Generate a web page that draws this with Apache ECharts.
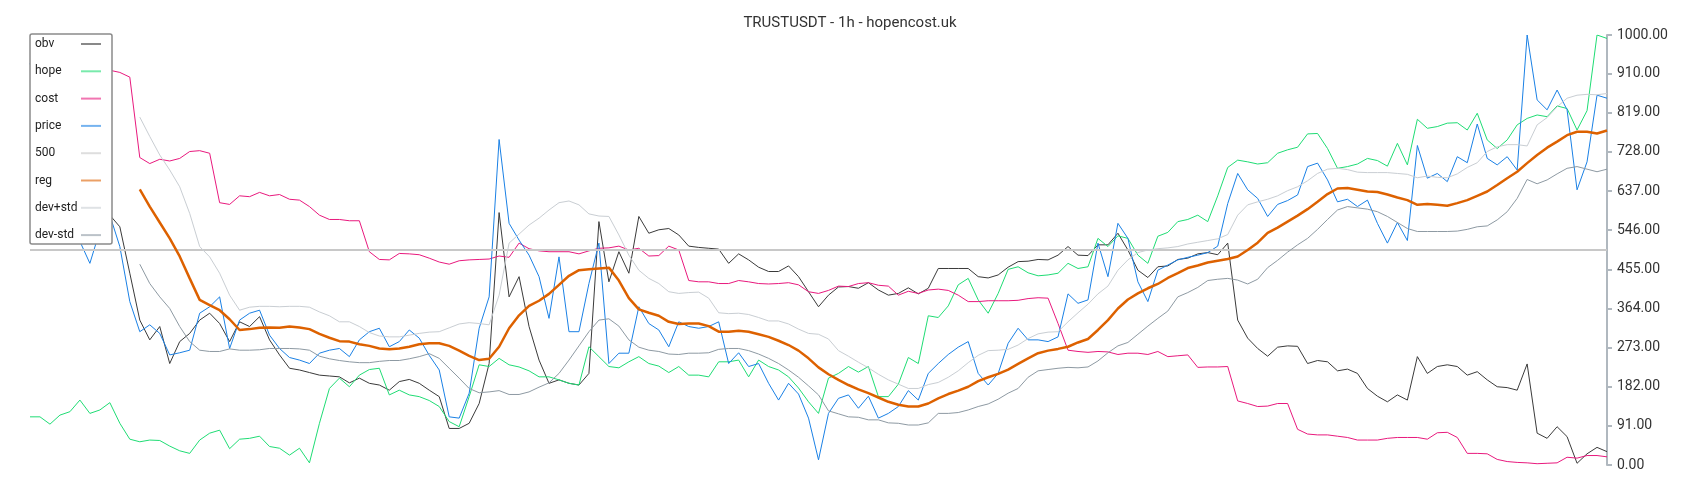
<!DOCTYPE html>
<html>
<head>
<meta charset="utf-8">
<script src="https://cdn.jsdelivr.net/npm/echarts/dist/echarts.min.js"></script>
<style>html,body{margin:0;padding:0;background:#fff}#chart{width:1700px;height:500px}</style>
</head>
<body>
<div id="chart"></div>
<script>
const title = 'TRUSTUSDT - 1h - hopencost.uk';
const seriesNames = ['obv', 'hope', 'cost', 'price', '500', 'reg', 'dev+std', 'dev-std'];
const yTicks = { min: 0, max: 1000, interval: 91 };

const price = [934,860,760,650,560,520,469,545,581,508,380,310,326,306,256,261,267,353,368,391,
271,337,353,360,302,271,250,244,236,260,267,271,252,291,310,318,275,287,314,295,
255,221,112,109,167,318,391,757,562,523,488,438,341,484,310,310,422,516,236,260,
260,368,329,314,275,333,322,318,322,333,236,261,229,236,190,151,190,165,109,12,
120,155,163,132,160,109,120,136,173,151,213,236,257,274,287,213,186,213,283,318,
291,291,287,298,398,376,384,516,438,562,527,426,380,453,465,477,483,488,494,509,
608,678,640,620,578,606,615,628,694,702,663,612,618,601,616,562,516,564,522,743,
667,678,659,717,703,793,713,698,717,686,1000,849,826,872,826,640,705,860,853];

const obv = [620,610,600,590,600,610,590,585,581,554,446,337,291,322,236,287,306,337,353,329,
287,333,322,345,291,256,225,221,215,209,207,205,191,202,190,186,174,194,199,190,
174,159,85,85,97,143,236,587,391,438,322,244,190,198,190,186,213,566,426,496,
446,578,539,547,550,535,509,506,504,502,469,491,477,460,450,450,463,438,403,368,
395,414,415,411,424,407,395,399,412,398,411,457,457,457,457,438,435,442,460,473,
474,478,477,488,508,488,487,512,512,539,500,453,436,461,463,478,481,491,494,489,
516,337,295,271,253,274,277,276,236,243,240,219,223,213,178,160,147,163,151,252,
213,229,233,229,209,217,198,182,180,174,235,74,62,89,66,4,26,41,31];

const hope = [112,112,95,116,124,151,120,128,145,97,60,54,58,57,44,33,27,58,74,81,
38,60,62,67,43,39,23,39,5,97,178,202,182,209,222,225,163,174,163,159,
150,136,101,89,159,233,229,248,233,228,219,205,205,198,190,186,275,252,229,226,
240,252,236,230,215,229,209,209,205,240,240,244,205,244,229,221,205,179,147,120,
202,213,229,216,229,159,159,188,250,236,347,343,370,419,434,384,353,399,455,461,
447,440,442,446,469,457,461,527,508,533,527,488,469,532,541,566,571,581,566,626,
692,709,705,700,703,725,733,739,770,771,736,690,694,700,713,708,695,748,698,804,
783,787,795,796,779,818,756,736,756,791,806,814,810,835,829,779,824,1000,992];

const cost = [985,990,995,1000,1000,960,935,925,918,913,902,715,701,711,707,713,729,731,725,610,
606,626,624,634,626,629,618,616,601,581,571,571,568,568,496,478,477,492,491,489,
481,472,467,475,477,478,479,486,483,516,503,498,496,496,496,491,498,504,505,509,
500,504,486,487,509,500,429,426,426,422,422,429,426,422,421,422,424,419,403,399,
406,416,415,422,424,418,416,395,404,399,407,409,406,395,380,380,382,382,382,383,
387,389,388,329,267,264,262,264,263,257,260,260,257,264,252,254,256,227,228,228,
229,149,143,136,137,143,143,83,72,70,70,67,64,58,58,58,62,64,64,64,
60,75,76,64,27,27,26,13,8,6,5,3,4,5,18,16,22,22,19];

const level500 = price.map(() => 500);

const reg = [null,null,null,null,null,null,null,null,null,null,null,641,601,564,527,485,434,384,372,360,
339,314,316,319,320,319,322,320,316,305,296,288,287,281,277,271,269,271,275,281,
283,283,277,266,254,244,247,275,318,348,370,382,398,419,440,453,455,457,459,429,
388,362,354,347,333,328,329,329,323,310,310,312,310,304,298,289,279,266,248,227,
211,198,186,176,167,157,147,140,136,136,143,155,165,173,182,195,204,212,222,235,
248,260,266,270,275,285,293,314,337,364,385,399,411,421,435,446,458,464,471,475,
479,485,500,517,540,552,566,580,595,612,630,643,644,640,636,635,629,622,616,605,
607,605,603,609,616,626,636,651,667,682,702,721,738,752,767,775,775,771,778];

const devPlus = [null,null,null,null,null,null,null,null,null,null,null,809,764,721,686,647,585,508,484,446,
395,360,367,369,369,368,369,369,367,356,347,333,333,322,308,300,298,298,302,306,
309,310,319,328,331,329,326,395,516,537,558,574,593,610,614,605,584,579,578,535,
488,453,434,422,403,399,401,402,388,354,352,353,350,343,335,335,328,316,306,304,
293,266,253,239,226,211,198,188,178,178,187,192,204,219,238,255,266,267,269,279,
294,305,309,310,333,354,374,398,416,453,477,494,500,503,505,508,514,518,522,526,
536,581,605,612,618,626,638,647,661,678,688,690,687,681,680,680,680,678,676,668,
672,669,668,677,692,703,729,740,745,745,742,791,808,833,853,860,862,861,864];

const devMinus = [null,null,null,null,null,null,null,null,null,null,null,467,422,391,364,322,287,267,264,264,
270,267,267,268,271,271,271,270,267,253,247,243,240,238,238,241,243,243,247,252,
259,248,225,202,178,168,170,173,164,164,170,181,191,213,244,277,310,337,340,323,
291,274,267,264,258,257,260,260,261,269,271,271,266,258,248,236,221,204,184,163,
126,119,112,111,105,105,98,97,93,93,98,120,120,122,128,136,142,153,167,178,
204,219,222,225,227,226,228,242,261,277,285,304,323,341,358,391,401,413,429,432,
434,430,421,432,459,476,495,512,527,548,571,593,601,598,595,589,578,564,550,543,
543,543,543,544,548,554,556,570,589,620,664,654,663,677,690,694,688,682,688];

const categories = price.map((_, i) => i);

const seriesData = [obv, hope, cost, price, level500, reg, devPlus, devMinus];
const colors = ['#3a3a3a', '#1fdc74', '#e8197d', '#1a80e5', '#c8c8c8', '#dd6100', '#c9ced3', '#8e9aa3'];
const widths = [1, 1, 1, 1, 2, 2.5, 1, 1];

const chart = echarts.init(document.getElementById('chart'), null, { renderer: 'canvas' });
chart.setOption({
  animation: false,
  backgroundColor: '#ffffff',
  title: {
    text: title, left: 'center', top: 11,
    textStyle: { fontFamily: 'Roboto', fontSize: 15, fontWeight: 'normal', color: '#333' }
  },
  legend: {
    orient: 'vertical', left: 30, top: 34, align: 'right',
    backgroundColor: '#ffffff', borderColor: '#8a8a8a', borderWidth: 1.5, borderRadius: 2,
    padding: [4, 10, 3, 5], itemGap: 15.3, itemWidth: 20, itemHeight: 14,
    icon: 'inherit',
    itemStyle: { opacity: 0 },
    lineStyle: { opacity: 0.6 },
    formatter: name => '{t|' + name + '}',
    textStyle: {
      fontFamily: 'Roboto', fontSize: 12, color: '#222',
      rich: { t: { width: 41, align: 'left', fontFamily: 'Roboto', fontSize: 12, color: '#222' } }
    },
    data: seriesNames
  },
  grid: { left: 30, right: 93, top: 35, bottom: 35, outerBoundsMode: 'none', containLabel: false },
  xAxis: {
    type: 'category', data: categories, boundaryGap: false, show: false
  },
  yAxis: {
    type: 'value', position: 'right', min: yTicks.min, max: yTicks.max, interval: yTicks.interval,
    axisLine: { show: true, lineStyle: { color: '#b0b8bf', width: 2 } },
    axisTick: { show: true, length: 5, lineStyle: { color: '#b0b8bf', width: 2 } },
    splitLine: { show: false },
    axisLabel: {
      margin: 10, fontFamily: 'Roboto', fontSize: 14, color: '#333',
      formatter: v => v.toFixed(2)
    }
  },
  series: seriesNames.map((name, k) => ({
    name, type: 'line', data: seriesData[k], symbol: 'none', showSymbol: false,
    color: colors[k],
    lineStyle: { color: colors[k], width: widths[k] },
    z: 2
  }))
});
</script>
</body>
</html>
